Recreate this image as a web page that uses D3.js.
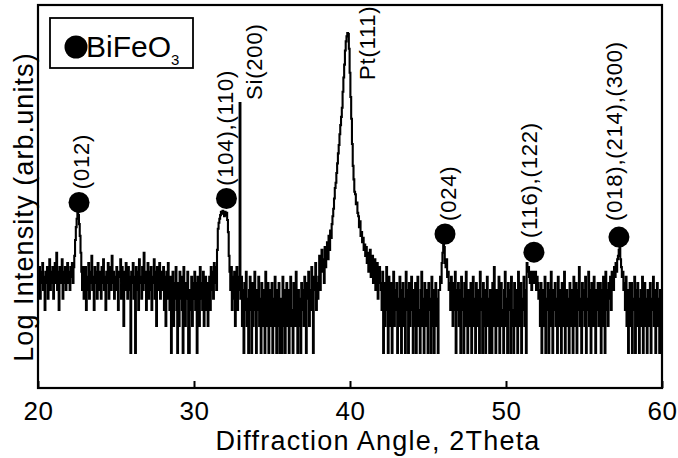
<!DOCTYPE html>
<html><head><meta charset="utf-8">
<script src="https://cdn.jsdelivr.net/npm/d3@7"></script>
<style>
body{margin:0;background:#fff}
svg{display:block}
text{font-family:"Liberation Sans",Arial,Helvetica,sans-serif;fill:#000}
</style>
</head><body>
<svg id="chart" width="678" height="458"></svg>
<script>
// ---- data ----
const startAngle = 20;
const angleStep = 0.05;
const counts = [
7,5,9,4,8,6,10,5,7,3,8,6,9,4,7,11,5,8,6,9,
4,7,10,6,13,5,8,3,9,6,7,11,4,8,6,9,5,7,10,6,
8,5,9,7,10,6,9,12,18,25,31,36,34,27,20,13,8,5,9,4,
6,9,3,7,5,10,4,8,6,12,5,7,3,9,6,8,4,10,7,5,
8,4,9,6,11,5,7,3,8,6,10,4,7,9,5,12,6,8,4,7,
5,9,6,3,8,7,11,4,9,6,2,8,5,10,6,4,9,7,5,1,
8,6,10,4,7,1,9,5,8,3,11,6,7,4,9,5,13,6,8,3,
7,10,4,8,5,9,3,7,6,11,4,8,2,9,5,7,10,4,6,8,
5,9,3,7,2,8,4,10,6,3,7,1,5,8,2,6,4,9,3,1,
6,2,8,4,7,3,1,9,5,2,6,4,8,1,1,5,3,7,2,6,
4,8,3,6,1,7,5,2,9,4,6,3,8,2,5,7,3,6,2,4,
7,3,9,5,8,4,10,6,9,5,14,24,28,31,34,37,36,38,35,33,
37,34,36,30,22,12,8,5,9,3,7,4,8,2,6,9,3,5,7,600,
4,7,2,5,1,6,3,8,2,4,1,5,7,3,1,6,2,4,8,3,
1,5,3,7,2,4,1,6,3,2,5,1,8,4,2,6,1,3,5,2,
6,1,4,2,7,3,1,5,2,6,1,4,3,1,7,2,5,1,3,6,
2,5,1,4,7,2,3,1,6,4,2,8,3,1,5,2,4,1,6,3,
5,2,7,3,1,6,4,8,2,5,3,9,4,1,7,5,10,3,6,4,
7,12,5,10,14,8,11,6,15,9,13,17,11,20,14,23,19,27,33,40,
52,68,78,100,128,165,205,270,340,420,530,800,1150,1600,2300,2900,3300,3600,3500,2400,
1300,700,400,210,120,85,62,58,45,47,36,33,25,29,20,22,17,19,14,16,
12,15,10,13,8,11,14,7,10,12,6,9,11,5,8,10,4,7,9,6,
5,3,8,1,6,2,4,9,3,1,7,5,2,6,1,4,8,2,5,3,
6,1,4,2,7,3,1,5,6,2,4,1,8,3,5,1,6,2,4,7,
3,1,5,2,6,1,4,7,2,3,1,5,8,2,4,1,6,3,2,5,
1,6,3,4,1,7,2,5,1,3,6,2,4,1,5,5,7,6,10,13,
17,15,10,9,11,7,8,5,6,3,7,4,2,6,3,8,1,5,3,6,
2,5,1,7,3,4,1,6,2,8,3,1,5,4,2,6,1,3,7,2,
4,1,6,3,2,5,1,8,3,4,1,6,2,5,1,3,7,2,4,1,
5,3,1,6,2,9,4,1,5,3,2,7,1,4,6,2,3,1,5,8,
2,4,1,6,3,5,1,7,2,3,1,6,4,2,5,1,8,3,2,6,
1,4,3,7,2,5,1,10,8,9,7,6,8,5,7,8,6,7,8,5,
7,6,4,5,2,6,1,3,5,2,7,1,4,3,6,1,5,2,8,3,
1,5,3,6,2,4,1,7,3,2,5,1,6,4,2,8,1,3,5,2,
4,1,6,2,5,3,1,7,4,2,6,1,3,5,9,2,4,1,6,3,
5,2,7,1,4,3,8,2,5,1,6,3,2,7,4,1,5,3,6,2,
3,6,1,5,2,7,4,1,8,3,5,2,6,4,7,3,8,6,5,9,
7,10,8,11,12,14,15,11,9,7,8,5,6,3,7,2,5,1,4,6,
2,6,1,4,3,7,1,5,2,6,3,1,4,5,2,7,1,3,6,2,
4,1,5,3,2,6,1,4,3,7,2,5,1,3,6,2,4,1,5,3,
4
];
const xTicks = [20, 30, 40, 50, 60];
const xDomain = [20, 60];
const yDomain = [0.408, 7360];

// BiFeO3 reflections: marker position (angle, count) and label anchor (angle, count)
const peakLabels = ["(012)", "(104),(110)", "(024)", "(116),(122)", "(018),(214),(300)"];
const peakAngles = [22.63, 32.08, 46.09, 51.79, 57.24];
const peakMarkLevels = [47, 52, 21, 13.2, 19.4];
const peakLabelAngles = [23.27, 32.5, 46.8, 51.99, 57.44];
const peakLabelLevels = [66, 72, 29.3, 18.9, 29.3];

// substrate / electrode reflections
const phaseLabels = ["Si(200)", "Pt(111)"];
const phaseLabelAngles = [34.36, 41.6];
const phaseLabelLevels = [648, 1080];

const xTitle = "Diffraction Angle, 2Theta";
const yTitle = "Log Intensity (arb.units)";
const legendName = "BiFeO";
const legendSub = "3";

// ---- drawing ----
const svg = d3.select("#chart");
const W = 678, H = 458;
const L = 38, R = 662, T = 5, B = 388;

const x = d3.scaleLinear().domain(xDomain).range([L, R]);
const y = d3.scaleLog().domain(yDomain).range([B, T]);

svg.append("rect").attr("width", W).attr("height", H).attr("fill", "#fff");

const pts = counts.map((c, i) => ({a: startAngle + i * angleStep, c}));
const line = d3.line().x(d => x(d.a)).y(d => y(d.c)).curve(d3.curveStep);
svg.append("path").datum(pts).attr("d", line)
  .attr("fill", "none").attr("stroke", "#000").attr("stroke-width", 2.1)
  .attr("stroke-linejoin", "miter");

// axis
const ax = svg.append("g").attr("transform", `translate(0,${B})`)
  .call(d3.axisBottom(x).tickValues(xTicks).tickSizeInner(-7).tickSizeOuter(0).tickPadding(14).tickFormat(d3.format("d")));
ax.select(".domain").remove();
ax.selectAll("line").attr("stroke", "#000").attr("stroke-width", 2);
ax.selectAll("text").attr("font-size", 26).attr("letter-spacing", "0.6px")
  .attr("font-family", '"Liberation Sans",Arial,sans-serif').attr("fill", "#000");

// frame
svg.append("rect").attr("x", L).attr("y", T).attr("width", R - L).attr("height", B - T)
  .attr("fill", "none").attr("stroke", "#000").attr("stroke-width", 2.2);

// titles
svg.append("text").attr("x", 378).attr("y", 450).attr("text-anchor", "middle")
  .attr("font-size", 27).attr("letter-spacing", "1.2px").text(xTitle);
svg.append("text").attr("transform", "translate(33,207) rotate(-90)").attr("text-anchor", "middle")
  .attr("font-size", 27).attr("letter-spacing", "1.1px").text(yTitle);

// markers
svg.selectAll("circle.pk").data(peakAngles).join("circle").attr("class", "pk")
  .attr("cx", d => x(d)).attr("cy", (d, i) => y(peakMarkLevels[i])).attr("r", 10.5).attr("fill", "#000");

svg.selectAll("text.pk").data(peakLabels).join("text").attr("class", "pk")
  .attr("transform", (d, i) => `translate(${x(peakLabelAngles[i])},${y(peakLabelLevels[i])}) rotate(-90)`)
  .attr("font-size", 22).attr("letter-spacing", "0.8px").text(d => d);

svg.selectAll("text.ph").data(phaseLabels).join("text").attr("class", "ph")
  .attr("transform", (d, i) => `translate(${x(phaseLabelAngles[i])},${y(phaseLabelLevels[i])}) rotate(-90)`)
  .attr("font-size", 22).attr("letter-spacing", "0.8px").text(d => d);

// legend
svg.append("rect").attr("x", 50).attr("y", 18).attr("width", 143).attr("height", 50)
  .attr("fill", "#fff").attr("stroke", "#000").attr("stroke-width", 1.8);
svg.append("circle").attr("cx", 76).attr("cy", 47).attr("r", 11.5).attr("fill", "#000");
const lt = svg.append("text").attr("x", 86).attr("y", 57).attr("font-size", 30);
lt.append("tspan").text(legendName);
lt.append("tspan").attr("font-size", 15).attr("dy", 8).text(legendSub);
</script>
</body></html>
